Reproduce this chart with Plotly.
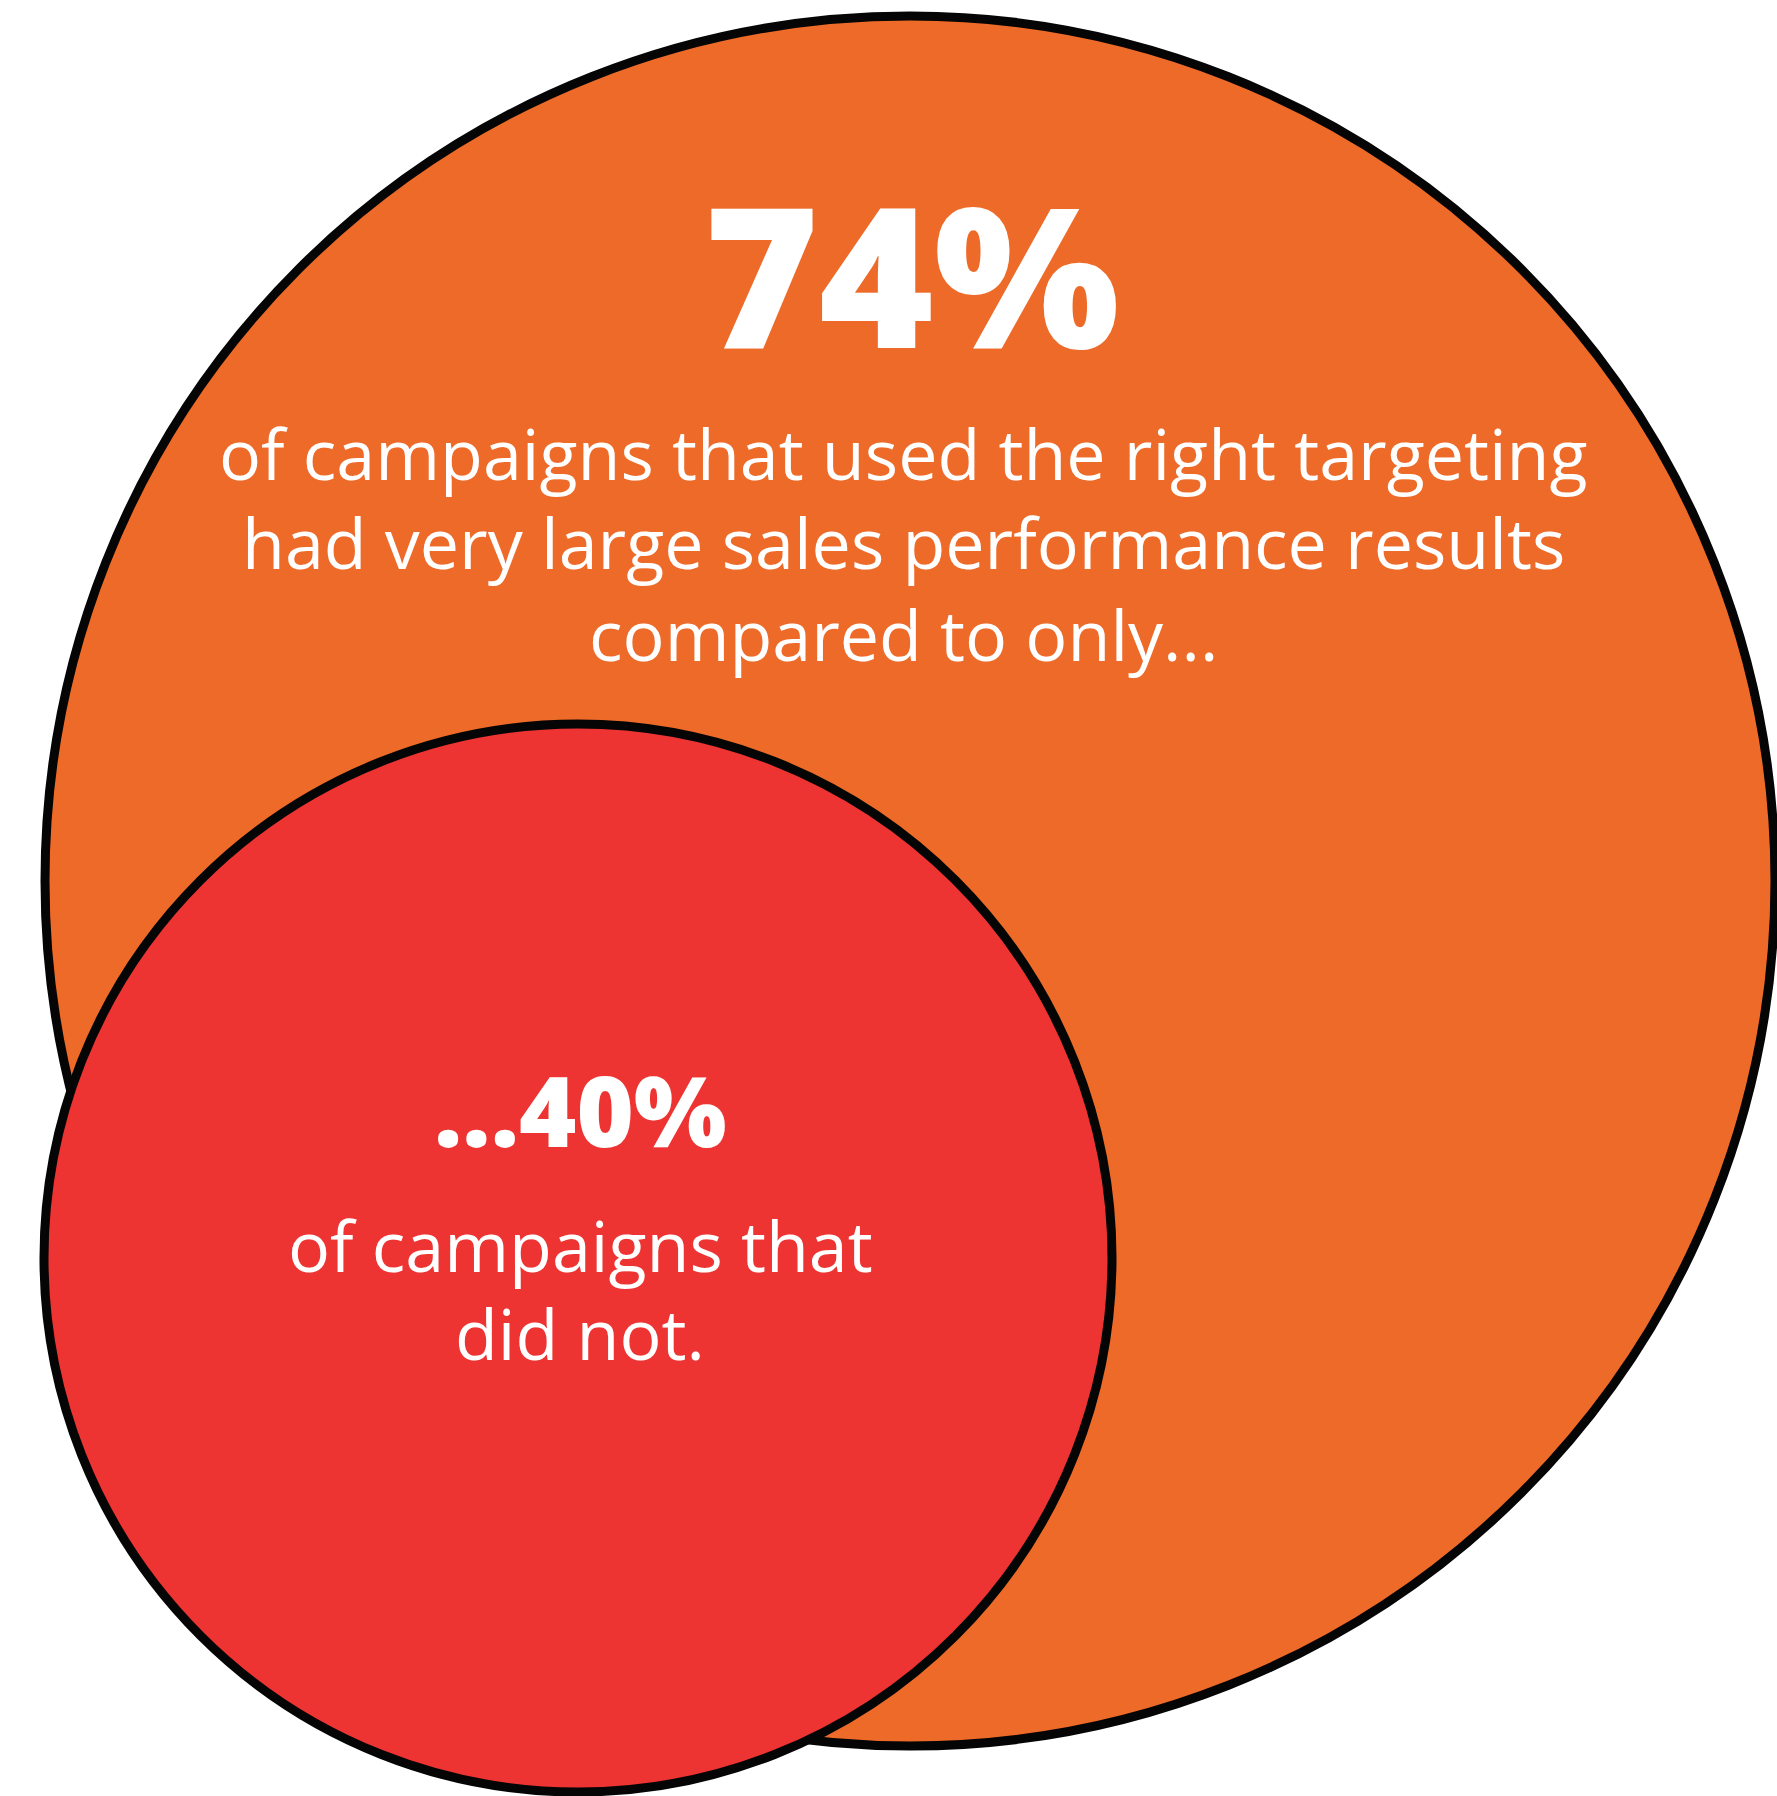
import plotly.graph_objects as go

W, H = 1777, 1796

# data
values = [74, 40]
headlines = ["74%", "...40%"]
big_lines = ["of campaigns that used the right targeting",
             "had very large sales performance results",
             "compared to only..."]
small_lines = ["of campaigns that", "did not."]

# layout constants (pixels)
big_c = (910, 881); big_r = 865
small_c = (578, 1258); small_r = 534
ORANGE = "#EE6A28"
RED = "#EE3432"
STROKE = "#050505"
SW = 9

fig = go.Figure()
fig.add_trace(go.Scatter(x=[0, W], y=[0, H], mode="markers",
                         marker=dict(opacity=0), hoverinfo="skip", showlegend=False))

def circle(c, r, fill):
    return dict(type="circle", xref="x", yref="y",
                x0=c[0] - r, x1=c[0] + r, y0=c[1] - r, y1=c[1] + r,
                fillcolor=fill, line=dict(color=STROKE, width=SW), layer="above")

fig.add_shape(**circle(big_c, big_r, ORANGE))
fig.add_shape(**circle(small_c, small_r, RED))

FONT_BODY = "Open Sans"
FONT_HEAD = "Open Sans"
BODY_SIZE = 70

annotations = []
annotations.append(dict(x=big_c[0] + 2, y=272, text=headlines[0],
                        font=dict(family=FONT_HEAD, size=196, color="white", weight=800)))
big_y = [453, 542, 634]
for line, yy in zip(big_lines, big_y):
    annotations.append(dict(x=903, y=yy, text=line,
                            font=dict(family=FONT_BODY, size=BODY_SIZE, color="white")))
annotations.append(dict(x=small_c[0] + 2, y=1109, text=headlines[1],
                        font=dict(family=FONT_HEAD, size=98, color="white", weight=800)))
small_y = [1245, 1333]
for line, yy in zip(small_lines, small_y):
    annotations.append(dict(x=small_c[0] + 2, y=yy, text=line,
                            font=dict(family=FONT_BODY, size=BODY_SIZE, color="white")))
for a in annotations:
    a.update(xref="x", yref="y", showarrow=False, xanchor="center", yanchor="middle")

fig.update_layout(
    width=W, height=H, margin=dict(l=0, r=0, t=0, b=0),
    paper_bgcolor="white", plot_bgcolor="white",
    xaxis=dict(range=[0, W], visible=False, fixedrange=True),
    yaxis=dict(range=[H, 0], visible=False, fixedrange=True),
    annotations=annotations, showlegend=False,
)
fig.write_html("out.html")
